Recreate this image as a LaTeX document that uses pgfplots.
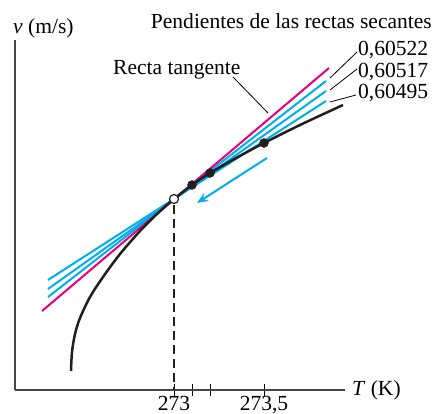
\documentclass[border=0pt]{standalone}
\usepackage{pgfplots}
\pgfplotsset{compat=1.18}
\usepackage{fontspec}
\setmainfont{Liberation Serif}
\usetikzlibrary{arrows.meta}

\definecolor{tanmag}{RGB}{230,0,126}
\definecolor{secblue}{RGB}{0,174,239}
\definecolor{curveblk}{RGB}{35,31,32}
\definecolor{axisgray}{RGB}{70,70,70}

\begin{document}
\fontsize{21.6}{26}\selectfont
\begin{tikzpicture}
  \begin{axis}[
    scale only axis,
    width=330bp, height=350bp,
    xmin=272.11667, xmax=273.95,
    ymin=0, ymax=350,
    axis lines=left,
    axis line style={-, draw=axisgray, line width=1.4bp},
    ytick=\empty,
    xtick={273,273.1,273.2,273.5},
    xticklabels={\mbox{273},,,{\mbox{273,5}}},
    major tick length=12bp,
    tick align=center,
    tick style={black, line width=1bp},
    xticklabel style={anchor=north, inner sep=0pt, yshift=-0.5bp,
      font=\fontsize{21.6}{26}\selectfont},
    clip=false,
  ]
    % secant lines
    \addplot[secblue, line width=2bp] coordinates {(272.3,93) (273.8444,309)};
    \addplot[secblue, line width=2bp] coordinates {(272.3,101) (273.8444,299)};
    \addplot[secblue, line width=2bp] coordinates {(272.3,110) (273.8444,289)};
    % tangent line
    \addplot[tanmag, line width=2bp] coordinates {(272.2667,79) (273.8611,322)};
    % v(T)
    \addplot[curveblk, line width=2.5bp, smooth] coordinates {
      (272.4278,19) (272.4333,38) (272.45,56) (272.4778,72)
      (272.5333,93) (272.6056,113) (272.7,136) (272.8111,159)
      (272.9056,176) (273,191) (273.1,205) (273.2,217)
      (273.35,232.5) (273.5,247) (273.7,265) (273.9389,285)
    };
    \addplot[curveblk, line width=1.2bp, dash pattern=on 9bp off 5bp]
      coordinates {(273,185) (273,0)};
    \addplot[secblue, line width=2bp, -{Stealth[length=11bp,width=9bp]}]
      coordinates {(273.5167,232) (273.1278,187)};
    \addplot[only marks, mark=*, mark size=4.5bp, curveblk]
      coordinates {(273.1,205) (273.2,217) (273.5,247)};
    \addplot[only marks, mark=*, mark size=4.5bp,
      mark options={fill=white, draw=curveblk, line width=1.2bp}]
      coordinates {(273,191)};
    % leaders
    \addplot[black, line width=0.8bp] coordinates {(273.3278,313) (273.5222,277)};
    \addplot[black, line width=0.8bp] coordinates {(273.8667,312) (274.0167,338)};
    \addplot[black, line width=0.8bp] coordinates {(273.8667,300) (274.0167,321)};
    \addplot[black, line width=0.8bp] coordinates {(273.8667,288) (274.0111,295)};

    \node[anchor=base west, inner sep=0pt] at (axis cs:272.1056,357) {\textit{v} (m/s)};
    \node[anchor=base east, inner sep=0pt] at (axis cs:274.4333,362) {Pendientes de las rectas secantes};
    \node[anchor=base west, inner sep=0pt] at (axis cs:272.6611,316) {Recta tangente};
    \node[anchor=base west, inner sep=0pt] at (axis cs:274.0222,335) {0,60522};
    \node[anchor=base west, inner sep=0pt] at (axis cs:274.0222,313) {0,60517};
    \node[anchor=base west, inner sep=0pt] at (axis cs:274.0222,292) {0,60495};
    \node[anchor=west, inner sep=0pt] at (axis cs:273.9889,0) {\textit{T} (K)};

    \coordinate (bbA) at (axis cs:272.03333,-24);
    \coordinate (bbB) at (axis cs:274.44444,390);
  \end{axis}
  \pgfresetboundingbox
  \useasboundingbox (bbA) rectangle (bbB);
\end{tikzpicture}
\end{document}
